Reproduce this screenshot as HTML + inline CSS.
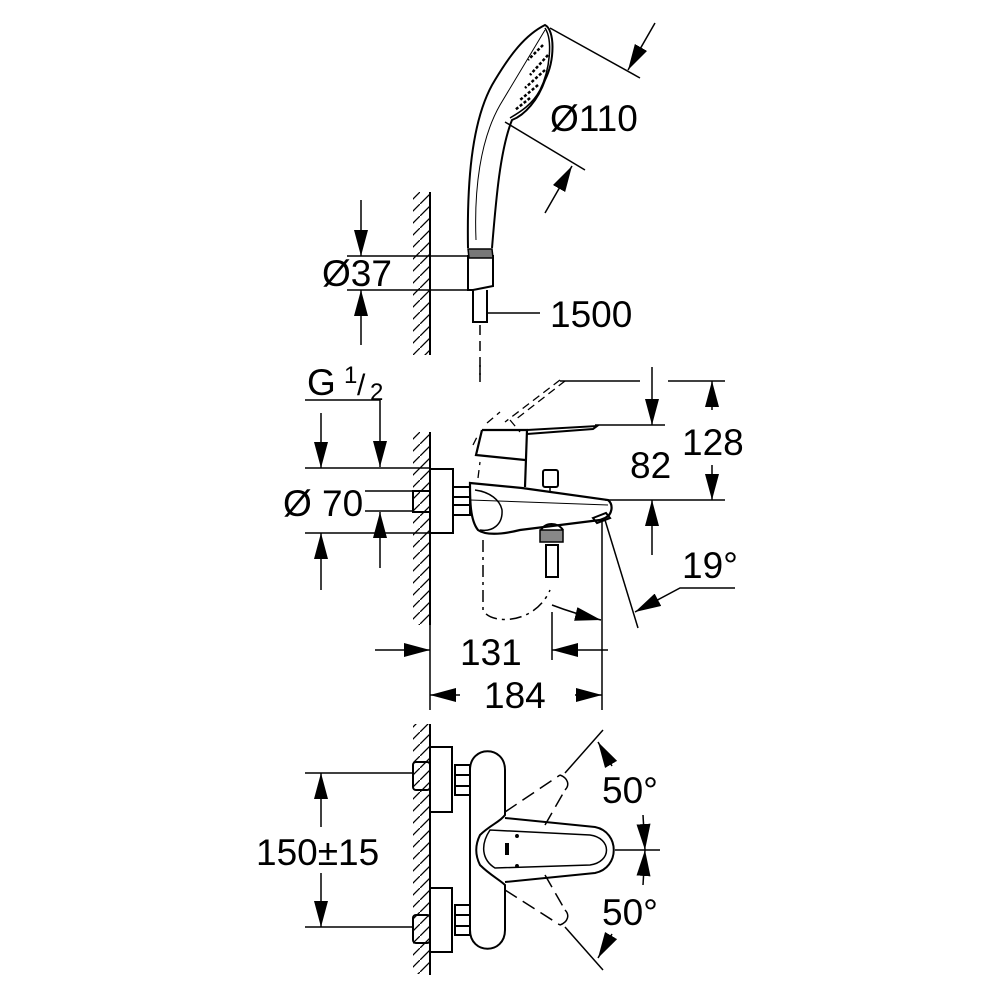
<!DOCTYPE html>
<html><head><meta charset="utf-8"><style>
html,body{margin:0;padding:0;background:#fff}
svg{display:block}
text{font-family:"Liberation Sans",sans-serif;font-size:37px;fill:#000}
</style></head><body>
<svg width="1000" height="1000" viewBox="0 0 1000 1000" xmlns="http://www.w3.org/2000/svg">
<defs>
<marker id="a" viewBox="0 0 10 10" refX="10" refY="5" markerWidth="10" markerHeight="10" markerUnits="userSpaceOnUse" orient="auto"><path d="M0,1.5 L10,5 L0,8.5z" fill="#000"/></marker>
<marker id="al" viewBox="0 0 10 10" refX="10" refY="5" markerWidth="26" markerHeight="14" markerUnits="userSpaceOnUse" orient="auto" preserveAspectRatio="none"><path d="M0,0 L10,5 L0,10z" fill="#000"/></marker>
<pattern id="h" width="12" height="12" patternUnits="userSpaceOnUse"><path d="M-3,15 L15,-3" stroke="#000" stroke-width="1.3"/></pattern>
</defs>
<g fill="none" stroke="#000" stroke-width="1.5">
<!-- ===== TOP: hand shower ===== -->
<rect x="413" y="192" width="17" height="163" fill="url(#h)" stroke="none"/>
<line x1="430" y1="192" x2="430" y2="355" stroke-width="2"/>
<line x1="347" y1="256" x2="468" y2="256"/>
<line x1="347" y1="290" x2="468" y2="290"/>
<line x1="361" y1="200" x2="361" y2="256" marker-end="url(#al)"/>
<line x1="361" y1="345" x2="361" y2="290" marker-end="url(#al)"/>
<path d="M468,256 L493,256 L493,286 L473,290 L468,290z" stroke-width="2"/>
<line x1="468" y1="256" x2="468" y2="290" stroke-width="2"/>
<path d="M468,249 L492,249 L493,258 L469,258z" fill="#777" stroke-width="1.5"/>
<path d="M473,290 L473,322 L487,322 L487,290" stroke-width="2"/>
<line x1="480" y1="325" x2="480" y2="382" stroke-dasharray="10,6"/>
<line x1="487" y1="313" x2="540" y2="313"/>
<!-- handle + head -->
<path d="M468,248 C467,190 470,120 495,80 C510,55 525,35 545,25 C555,30 555,60 545,80 C538,100 525,115 512,120 C500,150 496,200 492,248" stroke-width="2"/>
<path d="M476,240 C474,190 480,140 500,105 C515,80 530,55 545,30" stroke-width="1"/>
<path d="M545,28 C553,40 550,70 540,90 C532,105 520,112 510,118" stroke-width="1.5"/>
<path d="M543,45 L528,60 M548,55 L530,75 M545,70 L525,88 M538,85 L520,100 M530,98 L515,110" stroke-width="2.5" stroke-dasharray="3,2"/>
<!-- Ø110 dims -->
<line x1="550" y1="28" x2="640" y2="78"/>
<line x1="505" y1="122" x2="585" y2="170"/>
<line x1="655" y1="23" x2="628" y2="70" marker-end="url(#al)"/>
<line x1="545" y1="213" x2="572" y2="166" marker-end="url(#al)"/>
<!-- ===== MIDDLE ===== -->
<rect x="413" y="432" width="17" height="193" fill="url(#h)" stroke="none"/>
<line x1="430" y1="432" x2="430" y2="625" stroke-width="2"/>
<line x1="305" y1="400" x2="380" y2="400"/>
<line x1="380" y1="400" x2="380" y2="467" marker-end="url(#al)"/>
<line x1="380" y1="568" x2="380" y2="512" marker-end="url(#al)"/>
<line x1="305" y1="468" x2="430" y2="468"/>
<line x1="305" y1="533" x2="430" y2="533"/>
<line x1="365" y1="491" x2="413" y2="491"/>
<line x1="365" y1="511" x2="413" y2="511"/>
<line x1="321" y1="413" x2="321" y2="468" marker-end="url(#al)"/>
<line x1="321" y1="590" x2="321" y2="533" marker-end="url(#al)"/>
<rect x="430" y="469" width="23" height="64" stroke-width="2"/>
<rect x="413" y="491" width="17" height="21" stroke-width="2"/>
<path d="M453,487 L470,487 L470,515 L453,515z M453,497 L470,497 M453,505 L470,505" stroke-width="2"/>
<!-- body -->
<path d="M470,483 L522,488 L608,500 C614,505 612,515 605,518 L600,520 L520,530 C500,535 485,535 478,530 C470,520 470,500 470,483z" stroke-width="2.2"/>
<path d="M475,490 C490,492 500,500 502,510 C503,525 492,532 480,530" stroke-width="1.5"/>
<line x1="470" y1="500" x2="608" y2="505" stroke-width="1"/>
<path d="M593,518 L606,513 L610,518 L597,523z" stroke-width="2"/>
<!-- lever -->
<path d="M482,430 L527,430 L525,487 M482,430 L476,455 L525,460" stroke-width="2.2"/>
<path d="M527,430 L597,426 L593,429 L527,434" stroke-width="2"/>
<path d="M478,478 L480,462 M473,445 L478,435 M487,423 L500,412 M510,420 L520,432 M560,380 L505,422" stroke-width="1.3" stroke-dasharray="8,5"/>
<path d="M565,381 L515,420" stroke-width="1.3" stroke-dasharray="8,5"/>
<rect x="543" y="470" width="15" height="17" rx="2" stroke-width="2"/>
<line x1="550" y1="487" x2="550" y2="492"/>
<!-- hose connector -->
<path d="M541,530 C545,522 558,522 563,530" stroke-width="2"/>
<rect x="540" y="530" width="23" height="12" fill="#888" stroke-width="1.5"/>
<rect x="546" y="545" width="12" height="32" stroke-width="2"/>
<path d="M483,540 L483,610 C490,625 535,625 550,590" stroke-dasharray="12,5,3,5"/>
<line x1="480" y1="365" x2="480" y2="380" stroke-dasharray="10,6"/>
<!-- 82/128 -->
<path d="M560,381 L640,381 M668,381 L725,381"/>
<line x1="595" y1="425" x2="665" y2="425"/>
<line x1="605" y1="500" x2="725" y2="500"/>
<line x1="652" y1="367" x2="652" y2="425" marker-end="url(#al)"/>
<line x1="652" y1="555" x2="652" y2="500" marker-end="url(#al)"/>
<line x1="712" y1="410" x2="712" y2="381" marker-end="url(#al)"/>
<line x1="712" y1="465" x2="712" y2="500" marker-end="url(#al)"/>
<!-- 19° -->
<line x1="605" y1="520" x2="638" y2="628"/>
<path d="M735,588 L680,588 L635,612" marker-end="url(#al)"/>
<path d="M552,605 C565,610 580,615 601,620" marker-end="url(#al)"/>
<!-- 131 / 184 -->
<line x1="602" y1="520" x2="602" y2="710"/>
<line x1="552" y1="612" x2="552" y2="660"/>
<line x1="430" y1="625" x2="430" y2="710"/>
<line x1="375" y1="650" x2="430" y2="650" marker-end="url(#al)"/>
<line x1="608" y1="650" x2="552" y2="650" marker-end="url(#al)"/>
<line x1="460" y1="695" x2="430" y2="695" marker-end="url(#al)"/>
<line x1="575" y1="695" x2="602" y2="695" marker-end="url(#al)"/>
<!-- ===== BOTTOM ===== -->
<rect x="413" y="724" width="17" height="250" fill="url(#h)" stroke="none"/>
<line x1="430" y1="724" x2="430" y2="975" stroke-width="2"/>
<rect x="430" y="747" width="22" height="65" stroke-width="2"/>
<rect x="430" y="888" width="22" height="64" stroke-width="2"/>
<rect x="413" y="762" width="17" height="28" rx="3" stroke-width="2"/>
<rect x="413" y="915" width="17" height="28" rx="3" stroke-width="2"/>
<path d="M455,765 L470,765 L470,795 L455,795z M455,775 L470,775 M455,786 L470,786" stroke-width="2"/>
<path d="M455,905 L470,905 L470,935 L455,935z M455,915 L470,915 M455,926 L470,926" stroke-width="2"/>
<path d="M470,770 C470,745 505,745 505,770 L505,815 C500,822 490,825 480,835 C475,845 475,855 480,865 C490,875 500,880 505,885 L505,930 C505,955 470,955 470,930z" stroke-width="2"/>
<path d="M505,818 L595,827 C620,832 620,868 595,873 L505,882" stroke-width="2"/>
<path d="M490,830 C480,845 482,860 495,868 L590,865 C612,862 612,838 590,835z" stroke-width="1.5"/>
<rect x="505" y="843" width="4" height="12" fill="#000" stroke="none"/>
<circle cx="517" cy="836" r="1.2" fill="#000"/><circle cx="517" cy="866" r="1.2" fill="#000"/>
<path d="M505,812 L560,775 M545,825 L565,790 M505,890 L560,925 M545,875 L565,910" stroke-dasharray="14,7" stroke-width="1.5"/>
<path d="M560,775 C568,778 570,785 565,790 M560,925 C568,922 570,915 565,910" stroke-width="1.5"/>
<line x1="565" y1="773" x2="603" y2="730"/>
<line x1="565" y1="927" x2="603" y2="970"/>
<line x1="612" y1="766" x2="598" y2="742" marker-end="url(#al)"/>
<line x1="612" y1="934" x2="598" y2="958" marker-end="url(#al)"/>
<line x1="615" y1="850" x2="660" y2="850"/>
<line x1="643" y1="815" x2="645" y2="850" marker-end="url(#al)"/>
<line x1="643" y1="885" x2="645" y2="850" marker-end="url(#al)"/>
<line x1="305" y1="773" x2="413" y2="773"/>
<line x1="305" y1="927" x2="413" y2="927"/>
<line x1="321" y1="827" x2="321" y2="773" marker-end="url(#al)"/>
<line x1="321" y1="873" x2="321" y2="927" marker-end="url(#al)"/>
</g>
<g>
<text x="550" y="131">Ø110</text>
<text x="322" y="286">Ø37</text>
<text x="550" y="327">1500</text>
<text x="307" y="395">G</text>
<text x="344" y="383" style="font-size:24px">1</text>
<text x="357" y="395" style="font-size:30px">/</text>
<text x="370" y="400" style="font-size:24px">2</text>
<text x="283" y="516">Ø 70</text>
<text x="630" y="478">82</text>
<text x="682" y="455">128</text>
<text x="682" y="578">19°</text>
<text x="460" y="665">131</text>
<text x="484" y="708">184</text>
<text x="602" y="803">50°</text>
<text x="602" y="925">50°</text>
<text x="256" y="865">150±15</text>
</g>
</svg>
</body></html>
